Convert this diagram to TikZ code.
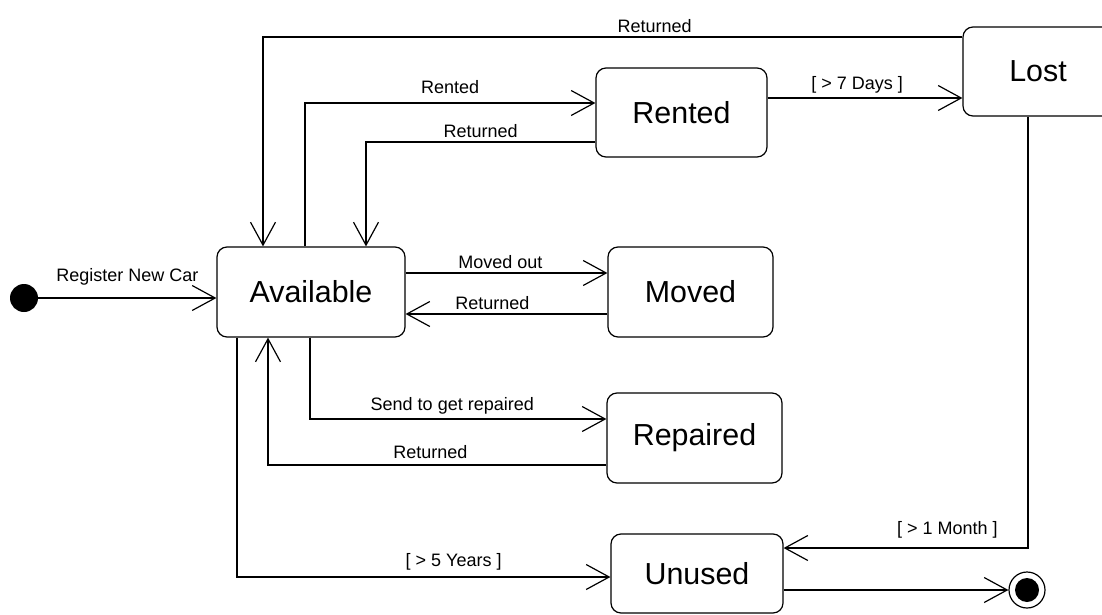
\documentclass[tikz,border=0pt]{standalone}
\usepackage{fontspec}
\setmainfont{Liberation Sans}
\usetikzlibrary{arrows.meta}

\begin{document}
\begin{tikzpicture}[x=0.5pt,y=-0.5pt,
  state/.style={draw,rounded corners=5pt,line width=0.6pt,inner sep=0pt,font=\fontsize{15.2}{18}\selectfont},
  trans/.style={line width=0.6pt,-{Straight Barb[length=11.5pt,width=12.5pt]}},
  lbl/.style={font=\fontsize{9}{11}\selectfont,inner sep=2pt}]
\useasboundingbox (0,0) rectangle (1102,615);

% States
\node[state,minimum width=94pt,minimum height=45pt] (avail) at (311,292) {Available};
\node[state,minimum width=85.5pt,minimum height=44.5pt] (rented) at (681.5,112.5) {Rented};
\node[state,minimum width=75pt,minimum height=44.5pt] (lost) at (1038,71.5) {Lost};
\node[state,minimum width=82.5pt,minimum height=45pt] (moved) at (690.5,292) {Moved};
\node[state,minimum width=87.5pt,minimum height=45pt] (repaired) at (694.5,438) {Repaired};
\node[state,minimum width=86pt,minimum height=39.5pt] (unused) at (697,573.5) {Unused};

% Initial and final state
\node[circle,fill=black,inner sep=0pt,minimum size=14pt] (init) at (24,298) {};
\node[circle,draw,line width=0.6pt,inner sep=0pt,minimum size=18pt] (final) at (1027,590) {};
\fill[black] (final) circle (6pt);

% Transitions
\draw[trans] (init.east) -- (init -| avail.west) node[lbl,midway,above=4pt] {Register New Car};
\draw[trans] ([yshift=17.25pt]lost.west) -| ([xshift=-24pt]avail.north) node[lbl,pos=0.22,above] {Returned};
\draw[trans] ([xshift=-3pt]avail.north) |- ([yshift=4.75pt]rented.west) node[lbl,pos=0.75,above=2.5pt] {Rented};
\draw[trans] ([yshift=-14.75pt]rented.west) -| ([xshift=27.5pt]avail.north) node[lbl,pos=0.25,above] {Returned};
\draw[trans] ([yshift=7.25pt]rented.east) -- ([yshift=-13.25pt]lost.west) node[lbl,pos=0.46,above] {[ > 7 Days ]};
\draw[trans] ([yshift=9.5pt]avail.east) -- ([yshift=9.5pt]moved.west) node[lbl,pos=0.47,above] {Moved out};
\draw[trans] ([yshift=-11pt]moved.west) -- ([yshift=-11pt]avail.east) node[lbl,pos=0.57,above] {Returned};
\draw[trans] ([xshift=-0.5pt]avail.south) |- ([yshift=9.5pt]repaired.west) node[lbl,pos=0.74,above] {Send to get repaired};
\draw[trans] ([yshift=-13.5pt]repaired.west) -| ([xshift=-21.5pt]avail.south) node[lbl,pos=0.26,above=1pt] {Returned};
\draw[trans] ([xshift=-37pt]avail.south) |- ([yshift=-1.75pt]unused.west) node[lbl,pos=0.79,above=1pt] {[ > 5 Years ]};
\draw[trans] ([xshift=-5pt]lost.south) |- ([yshift=12.75pt]unused.east) node[lbl,pos=0.665,above=2.5pt] {[ > 1 Month ]};
\draw[trans] ([yshift=-8.25pt]unused.east) -- (final.west);
\end{tikzpicture}
\end{document}
